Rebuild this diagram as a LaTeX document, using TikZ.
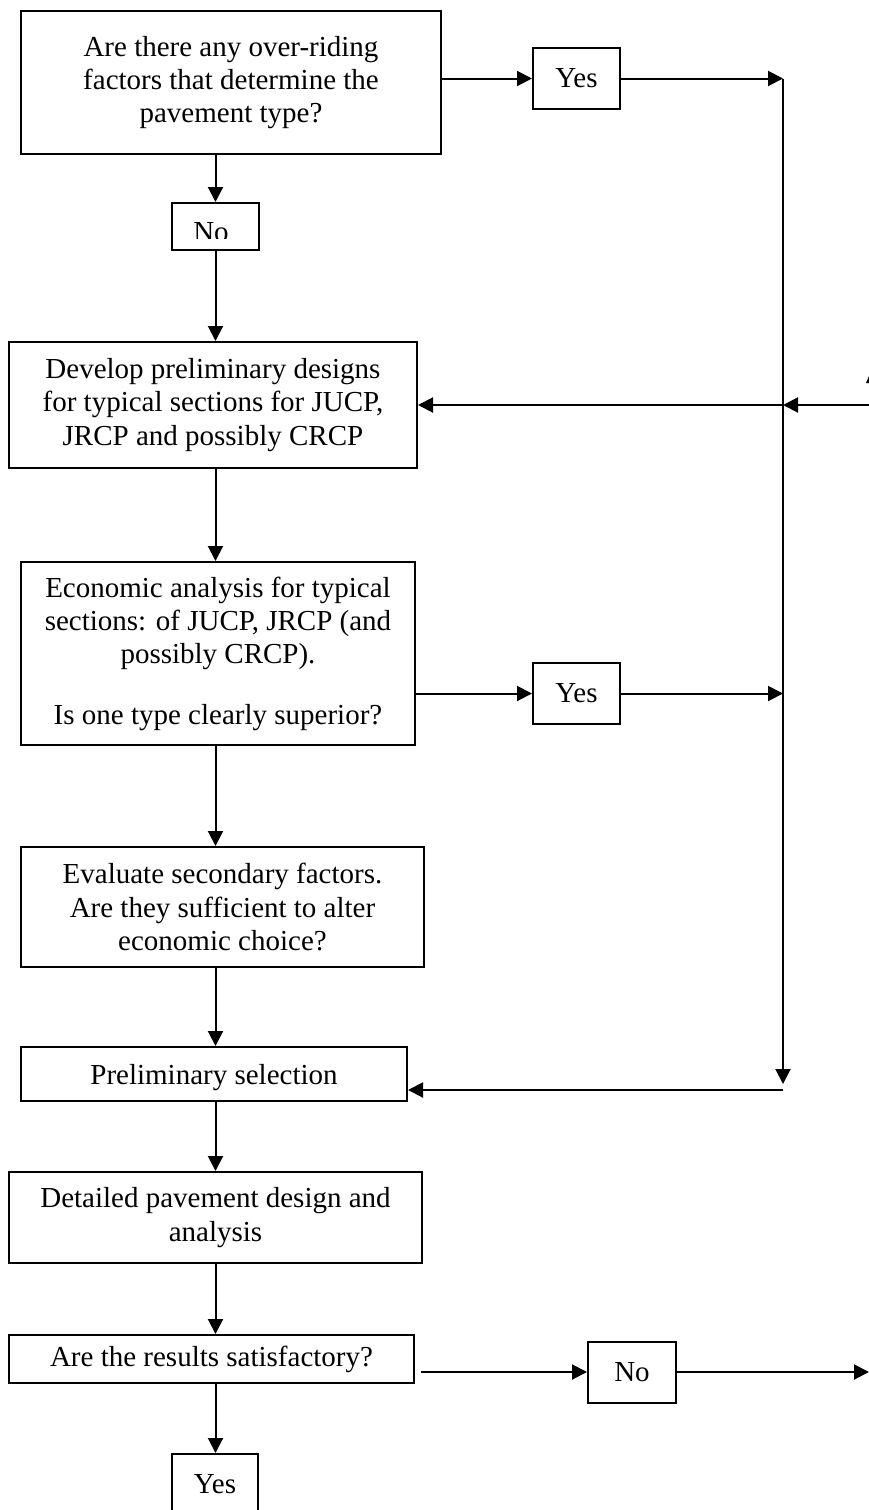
\documentclass[tikz,border=0pt]{standalone}
\usepackage{fontspec}
\setmainfont{Liberation Serif}
\usetikzlibrary{arrows.meta}
\begin{document}
\begin{tikzpicture}[x=1pt,y=-1pt,
  box/.style={draw, line width=2pt, inner sep=0pt, align=center,
    font=\fontsize{29}{33.3}\selectfont},
  lbl/.style={inner sep=0pt, font=\fontsize{29}{33.3}\selectfont},
  conn/.style={line width=2pt},
  arr/.style={line width=2pt, -{Triangle[length=15pt,width=15pt]}}]
\clip (0,0) rectangle (869,1510);
\useasboundingbox (0,0) rectangle (869,1510);
% column of the main flow
\coordinate (col) at (215.5,0);
% boxes
\node[box, minimum width=420pt, minimum height=143pt] (b1) at (231,82.5)
  {Are there any over-riding\\ factors that determine the\\ pavement type?};
\node[box, minimum width=87pt, minimum height=61pt] (yes1) at (576.5,78.5) {Yes};
\node[box, minimum width=87pt, minimum height=47pt] (no1) at (215.5,226.5) {};
\begin{scope}
  \clip (160,200) rectangle (270,238.5);
  \node[lbl] (no1t) at (211,232.5) {No};
\end{scope}
\node[box, minimum width=408pt, minimum height=126pt] (b2) at (213,405)
  {Develop preliminary designs\\ for typical sections for JUCP,\\ JRCP and possibly CRCP};
\node[box, minimum width=394pt, minimum height=183pt] (b3) at (218,653.5)
  {Economic analysis for typical\\ sections: of JUCP, JRCP (and\\ possibly CRCP).\\[27pt] Is one type clearly superior?};
\node[box, minimum width=87pt, minimum height=61pt] (yes2) at (576.5,693.5) {Yes};
\node[box, minimum width=403pt, minimum height=120pt] (b4) at (222.5,907)
  {Evaluate secondary factors.\\ Are they sufficient to alter\\ economic choice?};
\node[box, minimum width=386pt, minimum height=54pt, text height=28pt, text depth=6.5pt] (b5) at (214,1074)
  {Preliminary selection};
\node[box, minimum width=413pt, minimum height=91pt] (b6) at (215.5,1217.5)
  {Detailed pavement design and\\ analysis};
\node[box, minimum width=405pt, minimum height=48pt] (b7) at (211.5,1359)
  {Are the results satisfactory?};
\node[box, minimum width=88pt, minimum height=61pt] (no2) at (632,1372) {No};
\node[box, minimum width=86pt, minimum height=61pt] (yes3) at (215,1484.5) {Yes};
% right-hand collector line
\coordinate (rtop) at (783,78.5);
\coordinate (rmid) at (783,405);
\coordinate (ryes) at (783,693.5);
\coordinate (rend) at (783,1084);
\coordinate (rbot) at (783,1090);
\coordinate (edge1) at (869,405);
\coordinate (edge2) at (869,1372);
\coordinate (b7out) at (421,1372);
% main flow arrows
\draw[arr] (b1.south -| col) -- (no1.north -| col);
\draw[arr] (no1.south -| col) -- (b2.north -| col);
\draw[arr] (b2.south -| col) -- (b3.north -| col);
\draw[arr] (b3.south -| col) -- (b4.north -| col);
\draw[arr] (b4.south -| col) -- (b5.north -| col);
\draw[arr] (b5.south -| col) -- (b6.north -| col);
\draw[arr] (b6.south -| col) -- (b7.north -| col);
\draw[arr] (b7.south -| col) -- (yes3.north -| col);
% side branches
\draw[arr] (yes1.west -| b1.east) -- (yes1.west);
\draw[arr] (yes1.east) -- (rtop);
\draw[arr] (rtop) -- (rend);
\draw[arr] (edge1) -- (rmid);
\draw[arr] (rmid) -- (b2.east);
\draw[arr] (yes2.west -| b3.east) -- (yes2.west);
\draw[arr] (yes2.east) -- (ryes);
\draw[arr] (rbot) -- (b5.east |- rbot);
\draw[arr] (b7out) -- (no2.west);
\draw[arr] (no2.east) -- (edge2);
% clipped mark at the right edge
\fill (866,383) -- (869,376) -- (869,383) -- cycle;
\end{tikzpicture}
\end{document}
